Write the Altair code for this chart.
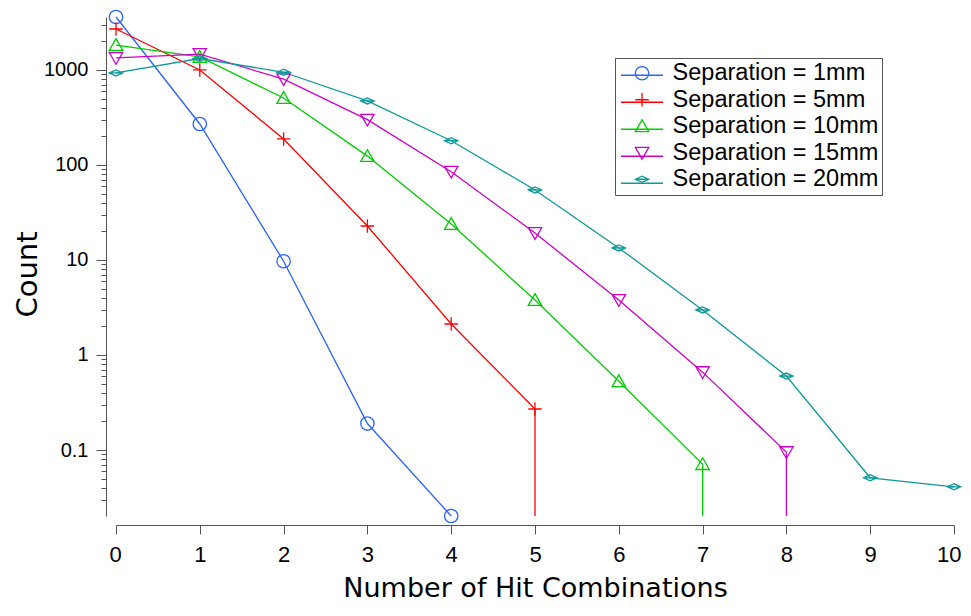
import altair as alt
import pandas as pd

# ---- data ----
hits = list(range(11))
series_names = [
    "Separation = 1mm",
    "Separation = 5mm",
    "Separation = 10mm",
    "Separation = 15mm",
    "Separation = 20mm",
]
sep_1mm = [3610, 270, 9.7, 0.19, 0.0202, 0]
sep_5mm = [2700, 1000, 188, 22.8, 2.12, 0.27, 0]
sep_10mm = [1830, 1370, 507, 124, 23.9, 3.79, 0.53, 0.071, 0]
sep_15mm = [1340, 1470, 800, 300, 85, 19.2, 3.8, 0.66, 0.095, 0]
sep_20mm = [930, 1320, 946, 472, 180, 54.6, 13.4, 2.98, 0.6, 0.051, 0.041]
all_series = [sep_1mm, sep_5mm, sep_10mm, sep_15mm, sep_20mm]

colors = ["#2a62ff", "#ff0000", "#00cc00", "#cc00cc", "#0e9a9a"]
shapes = [
    "M1,0A1,1,0,1,1,-1,0A1,1,0,1,1,1,0Z",
    "M-1,0L1,0M0,-1L0,1",
    "M0,-0.95L1,0.8L-1,0.8Z",
    "M-1,-0.8L1,-0.8L0,0.95Z",
    "M-1,0L0,-0.45L1,0L0,0.45ZM-1,0L1,0",
]

x_ticks = list(range(11))
y_major = [0.1, 1, 10, 100, 1000]
y_minor = [0.02, 0.03, 0.04, 0.05, 0.06, 0.07, 0.08, 0.09,
           0.2, 0.3, 0.4, 0.5, 0.6, 0.7, 0.8, 0.9,
           2, 3, 4, 5, 6, 7, 8, 9,
           20, 30, 40, 50, 60, 70, 80, 90,
           200, 300, 400, 500, 600, 700, 800, 900,
           2000, 3000]

# ---- tables ----
rows, drops = [], []
for name, vals in zip(series_names, all_series):
    for i, v in enumerate(vals):
        if v > 0:
            rows.append({"hits": hits[i], "count": v, "series": name})
            if i + 1 < len(vals) and vals[i + 1] == 0:
                drops.append({"hits": hits[i], "count": v, "series": name})
df = pd.DataFrame(rows)
y_min = float(df["count"].min())
y_max = float(df["count"].max())
dd = pd.DataFrame(drops)
dd["floor"] = y_min

FONT = "Liberation Sans"
TFONT = "DejaVu Sans"
xscale = alt.Scale(domain=[0, 10], nice=False)
yscale = alt.Scale(type="log", domain=[y_min, y_max], nice=False)

x_axis = alt.Axis(values=x_ticks, format="d", title="Number of Hit Combinations",
                  tickSize=9, offset=9, grid=False, domainColor="#555", tickColor="#555",
                  labelFontSize=22, labelPadding=10, labelColor="black", labelFont=FONT,
                  labelFlush=True, labelFlushOffset=7,
                  titleFontSize=27, titleFontWeight="normal", titleFont=TFONT,
                  titleColor="black", titlePadding=10)
y_axis_major = alt.Axis(values=y_major, format="~g", title="Count", orient="left",
                        tickSize=10, offset=10, grid=False, domainColor="#555",
                        tickColor="#555", labelFontSize=20, labelPadding=8,
                        labelColor="black", labelFont=FONT, labelFlush=False,
                        titleFontSize=29, titleFontWeight="normal", titleFont=TFONT,
                        titleColor="black", titlePadding=1, titleY=257)
y_axis_minor = alt.Axis(values=y_minor, labels=False, title=None, orient="left",
                        tickSize=5, offset=10, grid=False, domain=False,
                        tickColor="#555")

stroke_legend = alt.Legend(orient="none", legendX=504, legendY=36.25, padding=0,
                           title=None, symbolType="stroke", symbolSize=1764,
                           symbolStrokeWidth=1.3, labelExpr="''", labelFontSize=10,
                           rowPadding=-19.25)
shape_legend = alt.Legend(orient="none", legendX=499, legendY=41, padding=3.5,
                          title=None, strokeColor="#555", symbolSize=180,
                          symbolStrokeWidth=1.3, symbolOffset=11.8, labelOffset=18.8,
                          labelFontSize=23.5, labelFont=FONT, labelColor="black",
                          labelLimit=400, rowPadding=1.5)

# stroke scale: data-driven domain (kept separate from the colour/shape legend)
stroke_enc = alt.Stroke("series:N", scale=alt.Scale(range=colors),
                        legend=stroke_legend, sort=series_names)
x_enc = alt.X("hits:Q", scale=xscale, axis=x_axis)

lines = alt.Chart(df).mark_line(strokeWidth=1.3).encode(
    x=x_enc,
    y=alt.Y("count:Q", scale=yscale, axis=y_axis_major),
    stroke=stroke_enc,
    detail="series:N",
)
rules = alt.Chart(dd).mark_rule(strokeWidth=1.3).encode(
    x=x_enc,
    y=alt.Y("count:Q", scale=yscale, axis=None),
    y2=alt.Y2("floor:Q"),
    stroke=stroke_enc,
)
points = alt.Chart(df).mark_point(filled=False, size=180, strokeWidth=1.3, opacity=1).encode(
    x=x_enc,
    y=alt.Y("count:Q", scale=yscale, axis=y_axis_minor),
    color=alt.Color("series:N", scale=alt.Scale(domain=series_names, range=colors),
                    legend=shape_legend),
    shape=alt.Shape("series:N", scale=alt.Scale(domain=series_names, range=shapes),
                    legend=shape_legend),
)

chart = alt.layer(lines, rules, points).resolve_axis(y="independent").properties(
    width=838,
    height=499,
    autosize=alt.AutoSizeParams(type="none"),
    padding={"left": 108, "top": 9, "right": 9, "bottom": 90},
    background="white",
).configure_view(strokeWidth=0)

chart.save("out.html", embed_options={"renderer": "svg", "actions": False})
